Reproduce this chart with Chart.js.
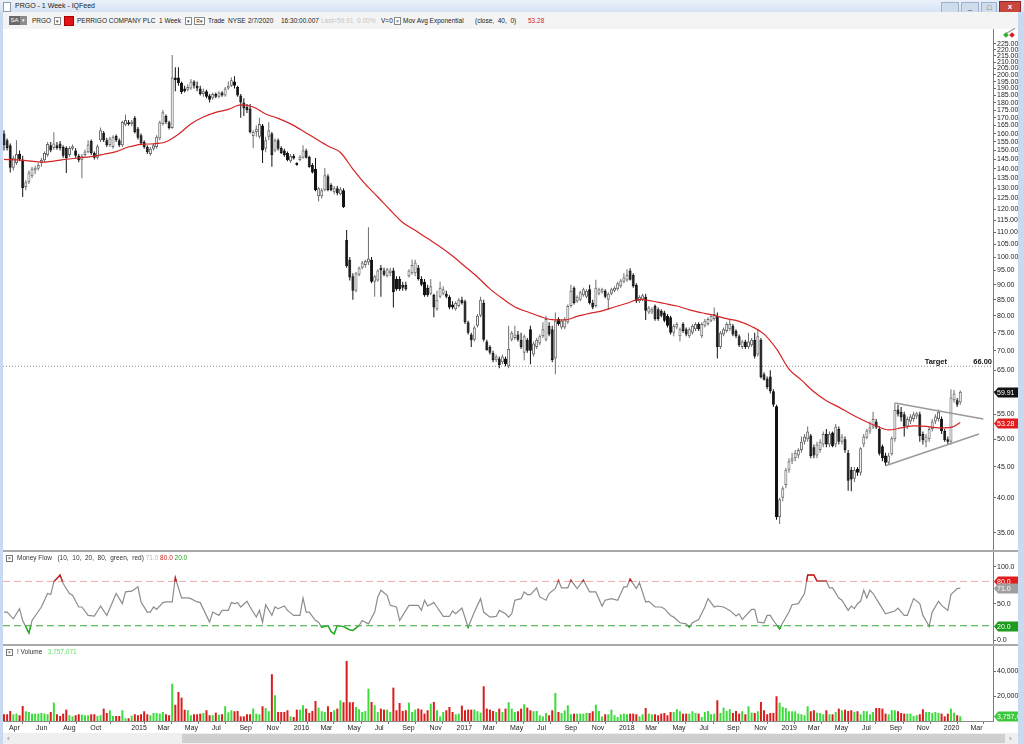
<!DOCTYPE html>
<html>
<head>
<meta charset="utf-8">
<script src="https://cdn.jsdelivr.net/npm/chart.js@4.4.1/dist/chart.umd.min.js"></script>
<style>
body{margin:0;width:1024px;height:744px;overflow:hidden;position:relative;background:#c8daf0;font-family:"Liberation Sans",Arial,sans-serif;}
.a{position:absolute;white-space:nowrap;}
#title{left:0;top:0;width:1024px;height:12px;background:linear-gradient(#eaf1fa,#d6e3f3);}
#bar{left:3px;top:12px;width:1015px;height:17px;background:#f4f4f4;font-size:6.5px;line-height:17px;color:#222;}
#bar .a{top:0;}
.dd{top:5px!important;width:5px;height:6px;border:1px solid #8a8a8a;background:#fff;font-size:5px;line-height:6px;text-align:center;color:#333;}
canvas{position:absolute;left:3px;background:#fff;}
.sep{left:3px;width:1015px;height:2px;background:#a9a9a9;}
.pt{left:6px;font-size:6.5px;line-height:9px;color:#333;}
.xb{display:inline-block;width:5px;height:5px;border:1px solid #777;font-size:5px;line-height:5px;text-align:center;vertical-align:middle;margin-right:4px;}
</style>
</head>
<body>
<div id="title" class="a">
  <div class="a" style="left:3px;top:2px;width:6px;height:8px;background:#fff;border:1px solid #8b9bb0;"></div>
  <div class="a" style="left:15px;top:0;font-size:7px;line-height:12px;color:#222;">PRGO - 1 Week - IQFeed</div>
  <div class="a" style="left:941px;top:2px;width:16px;height:9px;background:#cfdcec;border:1px solid #9fb2cb;"></div>
  <div class="a" style="left:961px;top:2px;width:16px;height:9px;background:#cfdcec;border:1px solid #9fb2cb;font-size:8px;line-height:8px;text-align:center;color:#445;">_</div>
  <div class="a" style="left:981px;top:2px;width:14px;height:9px;background:#cfdcec;border:1px solid #9fb2cb;font-size:7px;line-height:9px;text-align:center;color:#445;">&#9633;</div>
  <div class="a" style="left:999px;top:1px;width:20px;height:10px;background:#c9463d;border:1px solid #8e2a24;font-size:8px;line-height:10px;text-align:center;color:#fff;font-weight:bold;">x</div>
</div>
<div id="bar" class="a">
  <div class="a" style="left:6px;top:4px!important;height:9px;width:11px;background:#6a6a6a;color:#fff;font-size:6px;line-height:9px;text-align:center;">SA</div>
  <div class="a" style="left:17px;top:4px!important;height:9px;width:7px;background:#8c8c8c;color:#fff;font-size:5px;line-height:9px;text-align:center;">&#9662;</div>
  <div class="a" style="left:29px;">PRGO</div>
  <div class="a dd" style="left:51px;">&#9662;</div>
  <div class="a" style="left:61px;top:4px!important;width:8px;height:8px;background:#e01414;border:1px solid #a00;"></div>
  <div class="a" style="left:74px;">PERRIGO COMPANY PLC</div>
  <div class="a" style="left:156px;">1 Week</div>
  <div class="a dd" style="left:182px;">&#9662;</div>
  <div class="a dd" style="left:191px;width:9px;">R&#9662;</div>
  <div class="a" style="left:205px;">Trade</div>
  <div class="a" style="left:225px;">NYSE</div>
  <div class="a" style="left:245px;">2/7/2020</div>
  <div class="a" style="left:278px;">16:30:00.007</div>
  <div class="a" style="left:318px;color:#c4c4c4;">Last=59.91</div>
  <div class="a" style="left:354px;color:#c4c4c4;">0.00%</div>
  <div class="a" style="left:378px;">V=0</div>
  <div class="a dd" style="left:391px;">&#215;</div>
  <div class="a" style="left:400px;">Mov Avg Exponential</div>
  <div class="a" style="left:472px;">(close, &nbsp;40, &nbsp;0)</div>
  <div class="a" style="left:525px;color:#d01c1c;">53.28</div>
</div>

<canvas id="price" width="1015" height="521" style="top:29px;"></canvas>
<div class="a sep" style="top:550px;"></div>
<canvas id="mfi" width="1015" height="92" style="top:552px;"></canvas>
<div class="a sep" style="top:644px;"></div>
<canvas id="vol" width="1015" height="87" style="top:646px;"></canvas>

<div class="a" style="left:1003px;top:31px;width:13px;height:1px;background:#9a9a9a;transform:rotate(-30deg);"></div>
<div class="a" style="left:1004px;top:33px;width:4px;height:4px;background:#2fb02f;transform:rotate(45deg);"></div>
<div class="a" style="left:1010px;top:33px;width:4px;height:4px;background:#d82020;transform:rotate(45deg);"></div>

<div class="a pt" style="top:553px;"><span class="xb">&#215;</span>Money Flow &nbsp;&nbsp;(10, &nbsp;10, &nbsp;20, &nbsp;80, &nbsp;green, &nbsp;red) <span style="color:#b8b8b8">71.0</span> <span style="color:#d02020">80.0</span> <span style="color:#22a022">20.0</span></div>
<div class="a pt" style="top:647px;"><span class="xb">&#215;</span>! Volume &nbsp;&nbsp;<span style="color:#66dd66">3,757,071</span></div>

<div class="a" style="left:0;top:12px;width:3px;height:732px;background:#c8daf0;"></div>
<div class="a" style="left:1018px;top:12px;width:6px;height:732px;background:#c8daf0;"></div>
<div class="a" style="left:3px;top:733px;width:1015px;height:11px;background:#efefef;"></div>
<div class="a" style="left:182px;top:734px;width:823px;height:9px;background:#cfcfcf;"></div>
<div class="a" style="left:7px;top:733px;font-size:8px;line-height:11px;color:#777;">&#8249;</div>
<div class="a" style="left:1009px;top:733px;font-size:8px;line-height:11px;color:#777;">&#8250;</div>

<script>
// weekly bars, index 0 = week ending 2014-03-21, last = 2020-02-07
const opens = [
 160,156,153,140.5,143,148,145,130.6,133,136,
 139,140,143,144.5,147.5,153,151.5,153,154,152,
 151.5,147.5,151,150,147,144.5,147.5,149,155.5,148.6,
 146,156,160.5,156,153,152,158.5,156,153,165.5,
 167,166,170,163,159,155,152,148,151,152,
 157,166,171,167,163.5,198,198,194,190,189,
 190,195,192,190,186,188,185,183,186,184,
 187,185,190,192,195,191,185,180,177,176,
 158.5,161,158,165,151,158,160,150,156,151.5,
 150,148.6,144,147,143,144.7,146,150,146.5,142,
 140,126,126,129,136,131.6,128,130,127,129,
 106.7,99,93,88,93.5,96,97,98,99,91,
 91.5,96,95,93,94,95,92,92,90,90,
 93,94,94,96,92,91,89,87,86.6,82,
 86,87,87,86,83.5,82,83,85,84.5,78,
 74.5,73,77,80,84,72.5,71,69.5,67.5,68,
 67,68,66,73,73.5,74.5,73,69.5,73,76,
 69,71,72,74,73,77,76,68,79,76.5,
 76.5,78,83,89,84.5,85,86.5,86,88.5,84,
 83,87,87.5,88,85,87,88,88.5,89.5,91,
 91.5,95,93.5,89.9,84.5,85,86,81,81,83,
 82,81.5,81,80,79.5,75,76.5,74,77.5,76,
 74,75,76,77.5,74,77,77.5,78.5,79,80,
 71,74.5,75.5,76,77,75.5,74,71,72.5,71,
 71.5,73,69,73,64,63,63.5,60,56.7,37.2,
 40,42,44.5,46,46.5,47,48,49.5,50,50.7,
 48.5,47,48,49,51,49,51.3,49,52,49.5,
 50,47.5,44.5,43,44.7,44,49,50.3,51.5,52.3,
 53.5,52,48.7,47,45.7,47.2,50,56,55.5,55,
 52.5,53.5,54,54.5,55,51,49.5,50,52,53.5,
 54,54,51.6,50,49.5,58,58,57.5];
const highs = [
 162,157,154,147,156,150,147,134,139,141,
 141.5,143,146,149.5,155,155,160.8,155,155.5,153,
 152.5,152.5,153.5,151.5,148,148,150.5,156,156.5,149.5,
 153.5,163.8,161.5,157.5,158,159,159.5,157,168,172,
 168.5,168.5,171,164,160,156,153,152,154,159,
 168,175,172,168,215.8,206,206,195,192,193,
 197,196,195,192,190,189,186,187,187,188,
 188,191,195,198,199,192,186,183,179,179,
 162,165,170,166,158,167,161,157,157,152.5,
 151,149.5,148,148,143.5,147.5,153,151,147,143,
 145.8,130.5,130,140.3,137,132.5,131,131,130.5,130,
 110.9,100,94,94.5,96.5,98.5,99,112,100,93.5,
 95.5,97,96,96,96,96,93,93,91,91,
 95.5,99,99,97,93,92,90,92,87,88,
 91,89.5,88,86.5,84.5,84.5,85.5,86,85,78.5,
 75,77,80.5,86,85,73,71.5,70,69,68.5,
 69,68.5,77,75.5,77,75.5,75,74.5,73.5,77,
 72.5,73.5,74.5,78,80,78,77,81,79.5,79,
 79.5,83.5,90,89.5,86.5,88,89,88.5,90,85,
 91.7,89,89,88.5,87.5,89,89.5,91,92,94,
 95.5,95.8,94,90.5,86.5,87,87,83,82.5,83.5,
 82.5,82,81.5,80.5,80,77.5,78,76.5,78,76.5,
 76.5,77.5,78,78,78,79,79.5,80.5,82.5,81,
 75.5,76.5,78,79,77.5,76,74.5,73,73,75,
 73.5,75,76,73.5,64.5,63.5,65,60.5,57,40,
 41.8,44.8,46.5,47.5,48,48.3,50.5,51,52.5,51,
 49,49.5,50,51.5,52,51.5,51.5,53,52.5,51,
 50.5,48,45,45,45,48.5,51,52,53.5,55.5,
 54,52.5,49,47.5,47.5,50.5,57.4,57,56.5,55.5,
 54.5,55,55.5,55.5,55.5,51.5,51,52.5,54,55,
 56,54.5,52,50.5,60.5,60.3,58.5,60.2];
const lows = [
 150,150,138,139,142,144,125.7,129,132,135,
 137,139,141,143.5,146.5,149,150.5,150.5,150,146,
 137.7,146.5,150,146,143.5,135,146.5,148.5,147.5,145,
 145,155,155,152,152,151,155,152,152,164.5,
 165,164.5,160,156.5,153,151,148,147,150,151,
 156,165,166,162.5,163,188,192,186,187,188,
 189,190,188,185,184,183,180,182,183,183,
 184,184,189,191,190,184,170,171,173,160,
 151.5,158,157,143,149,156,141,149,150,148,
 146.5,144,143,145,141.5,144,145.5,145.5,140.5,137.5,
 128.5,123.5,125,128.5,128.5,128.5,127,126.5,126.5,120.5,
 96,91.5,85,87.5,93,95.5,96,97,90.5,86,
 91,86,93,92.5,93,82.5,88,88,88,88,
 92.5,93.5,93,91.5,89.5,86,86,86.5,79.5,81.5,
 85.5,86.5,85.5,82,82,81.5,82.5,83.5,77.5,74.5,
 71,72.5,76.5,79.5,72.5,70,69,67,67,65.5,
 66.5,66,65.5,72.5,73,72.5,70.5,67.5,69.5,66.5,
 68.5,70.5,71.5,73.5,72.5,74,67,64,77,76,
 76,77.5,82.5,83.5,84,84.5,86,85.5,83.5,82,
 82.5,86.5,87,85.5,81.8,86.5,87.5,88,89,90.5,
 91,91.5,89,84,84,84.5,78.7,80.5,80.5,78.5,
 78.5,79.5,78,76.5,74.5,74,76,72.5,75,74,
 73.5,74.5,75.5,75.5,73.5,76.5,77,78,78.5,68,
 70.5,74,75,75.5,74,73.5,71,70.5,70.5,70.5,
 71,68,68.5,63,62.5,60.5,59.5,56.5,36.8,36.2,
 39.5,41.5,44,45.5,46,46.5,47.5,49,49.5,46.5,
 46.5,46.5,47.5,48.5,48.5,48.5,48.5,48.5,49,49,
 47.5,41.1,41,42.5,43.5,43.5,48.5,50,51,52,
 52,47,46,45.2,45.5,47,49.5,54.5,53.5,50.5,
 52,53,53.5,54,49.5,49,48.5,49.5,51.5,53,
 53.5,51,49.5,49,49,57.5,56.5,57];
const closes = [
 153,151.5,140.5,146,148,145,130,133,138,140,
 140.5,142,144.7,148.6,153.8,150,154,151.5,151.5,147,
 145.8,151.5,152.5,147,144.5,147,149.5,153.5,148.6,146,
 152.5,162,156,153,157,158,156,153,167.2,168.5,
 166,167.5,161,157.5,154,152,149,151,153,158,
 167,173.5,167,163.5,198,196,194,187.5,188,191,
 195,192,190,186,188,184,182,186,184,187,
 185,190,192,196,192,185,180,176,175,161,
 161,163,166,150,156,162,147.5,156,151,148.6,
 147.5,144.7,147,145.5,142,146.5,150,146,140.9,138,
 129,130,129,136.5,129,129,130,127.5,129.5,121,
 96.7,92.5,88,94,96,98,98.5,99.5,91,93,
 95,95,93.5,95.5,95,87.5,88.5,88.5,89,88.5,
 95,97,98,92,90,86.5,86.5,89.5,82.5,85,
 89,88.5,86,82.5,82.5,84,85,84,78,75,
 72.9,76.5,80,85,73,70.2,69.5,67.5,68.5,66.3,
 68.5,66.5,70.5,75,74.5,73,71,74,70,70,
 72,73,74,76,79,74.5,67.6,78.5,77.5,78.5,
 79,83,88,84,86,87.5,88.5,88,84,82.5,
 89,88.5,88.5,86,87,88.5,89,90.5,91.5,92.5,
 93.5,91.7,89.5,84.6,86,86.5,81.5,82.5,82,79,
 79,80,78.5,77,75,77,77.5,76,75.5,74.5,
 76,77,77.5,76,77.5,78.5,79,80,80.5,71,
 75,76,77.5,77.5,74.5,74,71.5,72.5,71,72.5,
 73,68.5,74,63.3,62.7,61,60,57,37.2,39.8,
 41.5,44.5,46,46.5,47.5,48,49.5,50.5,51.5,46.9,
 47,49,49.5,51,49,51,48.7,52.5,49.5,50.5,
 48,42.7,42.9,44.5,44,48.3,50.5,51.7,52.3,54,
 52.3,47.3,46.5,45.7,47,50.2,55.9,55,54.3,52.5,
 54,54.5,55,55.2,50.6,49.8,50.5,52,53.5,54.5,
 55.5,51.6,49.8,49.5,58.6,59.5,57,59.91];
// weekly volume, millions of shares
const volumeMillions = [
 5.4,5.4,8.0,5.4,5.9,4.6,12.0,7.8,7.2,5.9,
 5.9,5.9,6.4,5.9,5.4,7.2,14.7,5.4,4.0,5.9,
 9.1,4.6,3.7,4.6,5.4,5.1,4.6,4.6,5.4,5.4,
 4.0,4.6,9.9,6.4,8.6,4.0,4.0,4.0,8.6,2.2,
 2.2,4.3,5.4,4.6,5.4,7.8,5.4,4.6,6.4,6.4,
 5.9,7.2,5.4,4.6,29.9,13.0,23.2,18.7,9.0,8.6,
 4.6,5.4,5.4,5.9,6.4,8.6,4.6,4.6,6.7,5.1,
 5.4,11.8,6.9,8.6,7.8,8.0,3.7,3.7,5.4,5.4,
 9.9,5.9,5.4,11.8,10.4,7.8,37.4,20.6,7.2,7.2,
 7.2,8.6,3.7,3.2,9.1,9.1,12.6,9.9,6.4,8.0,
 16.0,10.7,7.8,7.2,11.8,7.2,8.6,9.9,16.6,15.0,
 48.0,15.0,15.0,11.2,9.4,7.2,8.0,25.9,15.2,12.6,
 7.2,9.9,9.1,9.1,7.2,26.7,8.6,14.4,8.0,8.6,
 14.7,7.2,9.1,9.9,9.1,5.9,8.6,13.9,15.2,8.6,
 3.7,7.2,8.6,11.2,7.2,5.4,5.9,12.3,8.6,9.1,
 9.1,9.1,7.8,6.7,27.8,9.9,9.1,8.0,7.2,9.9,
 7.2,9.9,15.0,9.9,7.2,7.8,9.9,13.4,10.7,8.6,
 7.8,8.0,4.6,3.7,6.4,4.6,8.6,22.4,7.2,6.4,
 8.6,12.6,5.4,5.9,5.9,5.9,5.9,6.4,6.4,7.8,
 13.1,8.0,3.7,5.4,5.4,9.1,4.6,3.2,5.4,5.9,
 5.4,5.9,5.9,5.4,3.7,5.4,10.4,5.9,5.4,5.4,
 4.6,5.9,6.4,4.6,7.2,7.2,9.4,7.8,5.9,5.9,
 5.9,7.8,6.4,5.9,3.2,7.2,8.0,5.4,5.9,16.6,
 6.4,10.7,8.0,9.4,6.4,8.0,5.9,7.8,5.4,11.8,
 6.7,6.4,7.8,15.2,8.6,5.4,6.4,6.4,19.8,14.7,
 11.2,10.4,7.8,7.8,7.8,5.9,5.4,4.6,11.8,7.8,
 8.6,6.7,6.4,5.4,8.6,5.4,5.4,7.2,9.9,8.6,
 9.1,8.0,8.6,7.2,7.8,5.4,8.0,7.8,5.4,7.2,
 10.4,10.4,9.9,5.9,5.4,8.6,8.6,7.8,6.4,5.9,
 5.9,5.9,4.0,4.6,5.4,9.4,7.2,7.2,6.4,7.2,
 6.4,5.9,3.7,5.9,9.9,6.7,4.6,3.757];
const lastVolume = 3757071;

const emaWeeks = [0,4,8,12,16,20,24,28,32,36,40,44,48,52,56,60,64,68,72,76,80,84,88,92,96,100,104,108,112,116,120,124,128,132,136,140,144,148,152,156,160,164,168,172,176,180,184,188,192,196,200,204,208,212,216,220,224,228,232,236,240,244,248,252,256,260,264,268,272,276,280,284,288,292,296,300,304,307];
const emaValues = [145.0,144.8,144.2,143.5,144.1,145.1,145.8,146.6,147.9,149.4,152,153.6,153.9,155.1,159.6,166,170.4,173.4,175.4,178.4,177,172.4,169.5,166,161.6,157,152.6,148.9,139.8,132,125.7,119.6,114.1,110.7,107.3,104,100.4,96.5,92.7,88.6,85.4,82.7,81.2,79.8,78.8,78.7,79.8,80.7,81.5,82.7,83.9,85.1,84.6,83.8,83,81.8,80.9,80.1,79.1,78.3,76.8,74.6,70.5,65.3,62.6,59.9,57.9,56.5,55,53.7,52.6,51.8,52.2,52.6,52.5,52.2,52.3,53.28];

// Money Flow index, turning points
const mfiWeeks = [0,1,3,5,6,8,9,12,14,15,16,18,19,21,22,24,25,27,29,31,33,36,38,39,41,43,44,46,47,48,49,51,52,54,55,57,59,60,62,63,66,67,69,70,72,73,74,75,76,78,79,81,82,83,84,86,87,88,90,91,93,95,96,97,98,100,101,102,104,105,106,107,109,111,112,114,115,117,119,120,121,123,124,126,127,129,130,132,133,134,135,136,138,139,141,143,144,145,147,149,151,153,154,156,158,159,161,162,163,164,166,167,168,169,171,172,174,175,177,178,179,181,182,184,186,188,190,192,193,195,197,199,200,201,203,204,206,207,209,211,212,214,215,217,219,220,221,223,225,226,228,229,231,233,235,236,237,240,241,242,244,245,246,247,249,250,252,253,255,257,258,260,261,262,264,265,266,268,269,271,272,273,274,275,276,277,278,279,281,283,286,287,289,290,292,294,295,297,298,300,301,303,304,306,307];
const mfiValues = [38.5,38.5,29.4,43.1,27.1,10.3,27.1,45.4,63.6,62.2,79.5,88.6,77.2,63.6,61.3,45.4,45.4,34,33.1,46.7,34,63.6,49.9,65.8,66.8,72.7,52.2,38.5,38.5,45.4,42.2,51.3,52.2,52.2,85,57.6,57.6,56.7,52.2,51.3,24.9,38.5,34,40.8,40.8,51.3,49.9,51.3,45.4,53.1,45.4,31.7,40.8,24.9,48.5,34,45.4,43.1,46.7,40.8,34,34,57.6,38.5,38.5,27.1,24.9,18,20.3,12.1,8.9,20.3,18.9,14.4,13.5,20.3,27.1,22.6,38.5,59,68.1,61.3,47.6,45.4,27.1,40.8,47.6,47.6,47.6,40.8,54.5,46.7,51.3,45.4,32.6,32.6,39.9,36.2,44,18,38.5,56.7,38.5,31.7,32.6,40.8,36.2,31.7,36.2,54.5,56.7,65.8,62.2,62.2,71.3,59,54.5,63.6,70.4,81,71.3,71.3,81.5,70.4,81.5,65.8,65.8,46.7,54.5,56.7,54.5,72.7,72.7,83.1,70.4,78.6,52.2,53.1,45.4,45.4,43.1,34,31.7,24,22.6,18,24,28.5,45.4,56.7,45.4,46.7,45.4,40.8,33.1,36.2,28.5,42.2,42.2,24.9,24,34,34,27.1,15.8,24,38.5,48.5,49.9,63.6,88.6,88.6,80.4,80.4,80.4,71.3,71.3,57.6,54.5,40.8,46.7,43.1,49.9,53.1,68.1,57.6,68.1,63.6,49.9,36.2,39.9,44,34,34,56.7,49.9,34,19.4,38.5,53.1,47.6,40.8,62.2,70.4,71];
const mfiUpper = 80, mfiLower = 20;

// drawn trend lines (triangle) and target level
const trendUpperWeeks = [286, 314.4], trendUpperPrices = [57.4, 54.0];
const trendLowerWeeks = [283, 313], trendLowerPrices = [45.2, 51.0];
const targetPrice = 66;

// axis ticks
const priceTicks = [35,40,45,50,55,60,65,70,75,80,85,90,95,100,105,110,115,120,125,130,135,140,145,150,155,160,165,170,175,180,185,190,195,200,205,210,215,220,225];
const mfiTicks = [0, 50, 100];
const volumeTicks = [20, 40];
const monthTickDates = ['2014-04-01','2014-06-01','2014-08-01','2014-10-01','2015-01-01','2015-03-01','2015-05-01','2015-07-01','2015-09-01','2015-11-01','2016-01-01','2016-03-01','2016-05-01','2016-07-01','2016-09-01','2016-11-01','2017-01-01','2017-03-01','2017-05-01','2017-07-01','2017-09-01','2017-11-01','2018-01-01','2018-03-01','2018-05-01','2018-07-01','2018-09-01','2018-11-01','2019-01-01','2019-03-01','2019-05-01','2019-07-01','2019-09-01','2019-11-01','2020-01-01','2020-03-01'];
const monthTickLabels = ['Apr','Jun','Aug','Oct','2015','Mar','May','Jul','Sep','Nov','2016','Mar','May','Jul','Sep','Nov','2017','Mar','May','Jul','Sep','Nov','2018','Mar','May','Jul','Sep','Nov','2019','Mar','May','Jul','Sep','Nov','2020','Mar'];

const firstWeek = Date.UTC(2014, 2, 21);
function weekOf(s) {
  const p = s.split('-').map(Number);
  return (Date.UTC(p[0], p[1] - 1, p[2]) - firstWeek) / (7 * 86400000);
}

const xMin = -0.32, xMax = 317.5, axisW = 25;
const tickFont = { family: 'Liberation Sans', size: 7 };
const idx = closes.map((c, i) => i);
const isUp = i => i != null && closes[i] >= opens[i];

function base() {
  return {
    responsive: false, animation: false, devicePixelRatio: 1, events: [],
    layout: { padding: 0 },
    plugins: { legend: { display: false }, tooltip: { enabled: false } }
  };
}
function hiddenX() {
  return { type: 'linear', min: xMin, max: xMax, offset: false, display: false };
}
function rightY(type, min, max, tickVals, fmt) {
  return {
    type: type, position: 'right', min: min, max: max,
    afterBuildTicks: s => { s.ticks = tickVals.map(v => ({ value: v })); },
    afterFit: s => { s.width = axisW; s.paddingTop = 0; s.paddingBottom = 0; },
    ticks: { autoSkip: false, padding: 1, font: tickFont, color: '#222', callback: fmt },
    grid: { drawOnChartArea: false, tickLength: 3, color: '#666' },
    border: { display: true, color: '#7a7a7a' }
  };
}
function badges(items) {
  return {
    id: 'badges',
    afterDraw(chart) {
      const ctx = chart.ctx, sc = chart.scales.y, r = chart.chartArea.right;
      items.forEach(b => {
        const y = Math.round(sc.getPixelForValue(b.value)) + 0.5;
        ctx.save();
        ctx.fillStyle = b.bg;
        ctx.beginPath();
        ctx.moveTo(r + 1, y);
        ctx.lineTo(r + 5, y - 5);
        ctx.lineTo(chart.width, y - 5);
        ctx.lineTo(chart.width, y + 5);
        ctx.lineTo(r + 5, y + 5);
        ctx.closePath();
        ctx.fill();
        ctx.fillStyle = b.fg;
        ctx.font = '7px "Liberation Sans"';
        ctx.textBaseline = 'middle';
        ctx.textAlign = 'left';
        ctx.fillText(b.text, r + 4, y + 0.5);
        ctx.restore();
      });
    }
  };
}

// ---------- price panel ----------
const targetText = {
  id: 'targetText',
  afterDatasetsDraw(chart) {
    const ctx = chart.ctx, y = chart.scales.y.getPixelForValue(targetPrice), r = chart.chartArea.right;
    ctx.save();
    ctx.font = 'bold 7.5px "Liberation Sans"';
    ctx.fillStyle = '#111';
    ctx.textBaseline = 'bottom';
    ctx.textAlign = 'right';
    ctx.fillText(targetPrice.toFixed(2), r - 1, y - 1);
    ctx.fillText('Target', r - 46, y - 1);
    ctx.restore();
  }
};

const priceOpts = base();
priceOpts.scales = {
  x: hiddenX(),
  y: rightY('logarithmic', 32.8, 238.2, priceTicks, v => Number(v).toFixed(2))
};
new Chart(document.getElementById('price'), {
  type: 'bar',
  data: {
    datasets: [
      { type: 'line', data: [{ x: xMin, y: targetPrice }, { x: xMax, y: targetPrice }],
        borderColor: '#8a8a8a', borderWidth: 1, borderDash: [1, 2], pointRadius: 0, order: 5 },
      { type: 'bar', data: idx.map(i => ({ x: i, y: [lows[i], highs[i]] })),
        barThickness: 1, grouped: false, inflateAmount: 0,
        backgroundColor: c => isUp(c.dataIndex) ? '#6e6e6e' : '#111', order: 3 },
      { type: 'bar', data: idx.map(i => ({ x: i, y: [opens[i], closes[i]] })),
        barThickness: 3, grouped: false, inflateAmount: 0, borderWidth: 1, borderSkipped: false, minBarLength: 1,
        backgroundColor: c => isUp(c.dataIndex) ? '#ffffff' : '#111',
        borderColor: c => isUp(c.dataIndex) ? '#666' : '#111', order: 2 },
      { type: 'line', data: emaWeeks.map((w, k) => ({ x: w, y: emaValues[k] })),
        borderColor: '#d42424', borderWidth: 1.2, pointRadius: 0, cubicInterpolationMode: 'monotone', order: 0 },
      { type: 'line', data: trendUpperWeeks.map((w, k) => ({ x: w, y: trendUpperPrices[k] })),
        borderColor: '#9a9a9a', borderWidth: 1.5, pointRadius: 0, order: 1 },
      { type: 'line', data: trendLowerWeeks.map((w, k) => ({ x: w, y: trendLowerPrices[k] })),
        borderColor: '#9a9a9a', borderWidth: 1.5, pointRadius: 0, order: 1 }
    ]
  },
  options: priceOpts,
  plugins: [targetText, badges([
    { value: closes[closes.length - 1], text: closes[closes.length - 1].toFixed(2), bg: '#111', fg: '#fff' },
    { value: emaValues[emaValues.length - 1], text: emaValues[emaValues.length - 1].toFixed(2), bg: '#e01c1c', fg: '#fff' }
  ])]
});

// ---------- money flow panel ----------
const bandClip = {
  id: 'bandClip',
  beforeDatasetDraw(chart, args) {
    const ds = chart.data.datasets[args.index];
    if (ds.band == null) return;
    const a = chart.chartArea, y = chart.scales.y.getPixelForValue(ds.band), ctx = chart.ctx;
    ctx.save();
    ctx.beginPath();
    if (ds.side === 'above') ctx.rect(a.left, a.top - 5, a.right - a.left, y - a.top + 5);
    else ctx.rect(a.left, y, a.right - a.left, a.bottom - y + 5);
    ctx.clip();
  },
  afterDatasetDraw(chart, args) {
    if (chart.data.datasets[args.index].band == null) return;
    chart.ctx.restore();
  }
};
const mfiPts = mfiWeeks.map((w, k) => ({ x: w, y: mfiValues[k] }));
const mfiOpts = base();
mfiOpts.scales = { x: hiddenX(), y: rightY('linear', -4.7, 119.8, mfiTicks, v => Number(v).toFixed(1)) };
new Chart(document.getElementById('mfi'), {
  type: 'line',
  data: {
    datasets: [
      { data: [{ x: xMin, y: mfiUpper }, { x: xMax, y: mfiUpper }], borderColor: '#f2a9a9', borderWidth: 1, borderDash: [7, 4], pointRadius: 0, order: 4 },
      { data: [{ x: xMin, y: mfiLower }, { x: xMax, y: mfiLower }], borderColor: '#3aa83a', borderWidth: 1, borderDash: [7, 4], pointRadius: 0, order: 4 },
      { data: mfiPts, borderColor: '#8c8c8c', borderWidth: 1.2, pointRadius: 0, order: 2 },
      { data: mfiPts, borderColor: '#d41818', borderWidth: 1.4, pointRadius: 0, order: 1, band: mfiUpper, side: 'above' },
      { data: mfiPts, borderColor: '#1fb51f', borderWidth: 1.4, pointRadius: 0, order: 1, band: mfiLower, side: 'below' }
    ]
  },
  options: mfiOpts,
  plugins: [bandClip, badges([
    { value: mfiUpper, text: mfiUpper.toFixed(1), bg: '#e01c1c', fg: '#fff' },
    { value: mfiValues[mfiValues.length - 1], text: mfiValues[mfiValues.length - 1].toFixed(1), bg: '#a0a0a0', fg: '#fff' },
    { value: mfiLower, text: mfiLower.toFixed(1), bg: '#1e9a1e', fg: '#fff' }
  ])]
});

// ---------- volume panel ----------
const volOpts = base();
volOpts.scales = {
  x: {
    type: 'linear', min: xMin, max: xMax, offset: false, position: 'bottom',
    afterBuildTicks: s => { s.ticks = monthTickDates.map(d => ({ value: weekOf(d) })); },
    afterFit: s => { s.height = 12; s.paddingLeft = 0; s.paddingRight = 0; },
    ticks: { autoSkip: false, maxRotation: 0, align: 'start', padding: 0, font: { family: 'Liberation Sans', size: 7 }, color: '#222',
             callback: (v, i) => monthTickLabels[i] },
    grid: { drawOnChartArea: false, tickLength: 3, color: '#777' },
    border: { display: true, color: '#8a8a8a' }
  },
  y: rightY('linear', 0, 60, volumeTicks, v => (v * 1000000).toLocaleString('en-US'))
};
new Chart(document.getElementById('vol'), {
  type: 'bar',
  data: {
    datasets: [{
      data: idx.map(i => ({ x: i, y: volumeMillions[i] })),
      barThickness: 2, grouped: false, inflateAmount: 0,
      backgroundColor: c => isUp(c.dataIndex) ? '#3ddc3d' : '#d91d1d'
    }]
  },
  options: volOpts,
  plugins: [badges([
    { value: volumeMillions[volumeMillions.length - 1], text: lastVolume.toLocaleString('en-US'), bg: '#3cc83c', fg: '#fff' }
  ])]
});
</script>
</body>
</html>
